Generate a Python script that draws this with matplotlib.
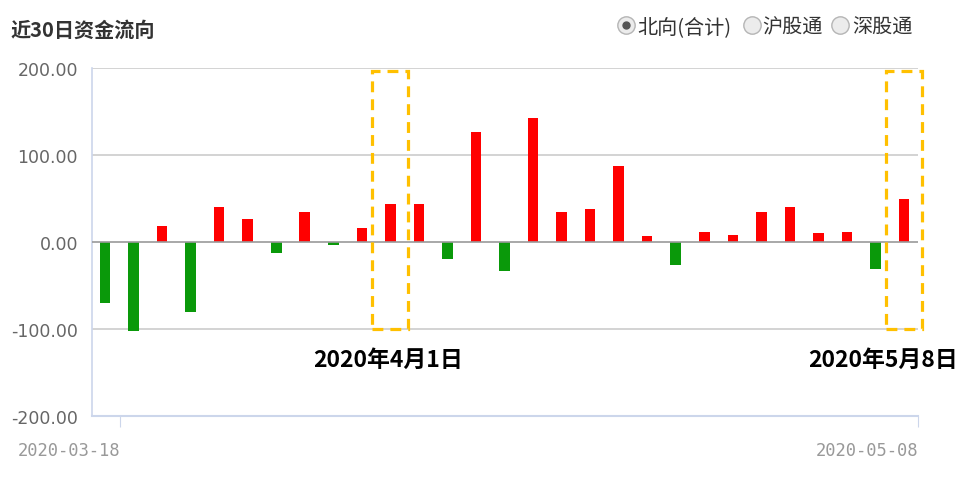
import matplotlib
matplotlib.use("Agg")
import matplotlib.pyplot as plt
from matplotlib.patches import Rectangle
import numpy as np

plt.rcParams['font.family'] = ['Noto Sans CJK SC', 'DejaVu Sans']

title = "近30日资金流向"
legend_items = ["北向(合计)", "沪股通", "深股通"]
values = [-70, -102, 18, -80, 40, 26, -13, 34, -3, 16, 44, 44, -19, 127, -33, 143,
          34, 38, 87, 7, -27, 12, 8, 34, 40, 10, 12, -31, 50]
yticks = [-200, -100, 0, 100, 200]
xtick_labels = ["2020-03-18", "2020-05-08"]
highlight_idx = [10, 28]
highlight_labels = ["2020年4月1日", "2020年5月8日"]

W, H = 976, 481
fig = plt.figure(figsize=(W / 100, H / 100), dpi=100)
ax = fig.add_axes([92 / W, 1 - 417 / H, (918 - 92) / W, (417 - 69) / H])

x = np.arange(len(values))
colors = ['#ff0000' if v >= 0 else '#0a990a' for v in values]
ax.bar(x, values, width=0.37, color=colors, zorder=3)

ax.set_xlim(-0.456, 28.49)
ax.set_ylim(-200, 200)
ax.set_yticks(yticks)
ax.set_yticklabels([f"{v:.2f}" for v in yticks], fontsize=12.5, color='#666666',
                   family=['DejaVu Sans'])
for v in yticks:
    if v == 0:
        ax.axhline(v, color='#999999', lw=1.2, zorder=4)
    elif v != -200:
        ax.axhline(v, color='#cccccc', lw=1.2, zorder=1)
ax.tick_params(axis='y', length=0, pad=10)

ax.set_xticks([0.53, 28.49])
ax.set_xticklabels(xtick_labels, fontsize=12.3, color='#999999',
                   family=['DejaVu Sans Mono'])
for lab in ax.get_xticklabels():
    lab.set_ha('right')
ax.tick_params(axis='x', length=8, color='#ccd6eb', pad=10)

for s in ['top', 'right']:
    ax.spines[s].set_visible(False)
ax.spines['left'].set_color('#ccd6eb')
ax.spines['bottom'].set_color('#ccd6eb')
ax.spines['left'].set_linewidth(1.2)
ax.spines['bottom'].set_linewidth(1.5)

# highlight dashed boxes
for i in highlight_idx:
    r = Rectangle((i - 0.64, -100), 1.27, 297, fill=False, edgecolor='#ffc000',
                  lw=2.3, linestyle=(0, (3.4, 2.2)), clip_on=False, zorder=5)
    ax.add_patch(r)

# annotation texts
fig.text(388 / W, 1 - 360 / H, highlight_labels[0], fontsize=16.5, fontweight='bold',
         ha='center', va='center', color='#000000')
fig.text(883 / W, 1 - 360 / H, highlight_labels[1], fontsize=16.5, fontweight='bold',
         ha='center', va='center', color='#000000')

# title
fig.text(10 / W, 1 - 30 / H, title, fontsize=14.5, fontweight='bold', ha='left',
         va='center', color='#333333')

# radio legend
circ_x = [626, 752, 840]
text_x = [637, 762, 852]
for k, (cx, tx, lab) in enumerate(zip(circ_x, text_x, legend_items)):
    fig.lines.append(plt.Line2D([cx / W], [1 - 26 / H], marker='o', markersize=12.5,
                                markerfacecolor='#ececec', markeredgecolor='#b5b5b5',
                                markeredgewidth=1, transform=fig.transFigure))
    if k == 0:
        fig.lines.append(plt.Line2D([cx / W], [1 - 26 / H], marker='o', markersize=5,
                                    markerfacecolor='#555555', markeredgecolor='#555555',
                                    transform=fig.transFigure))
    fig.text(tx / W, 1 - 28 / H, lab, fontsize=14.5, ha='left', va='center',
             color='#333333')

fig.savefig("out.png", dpi=100)
